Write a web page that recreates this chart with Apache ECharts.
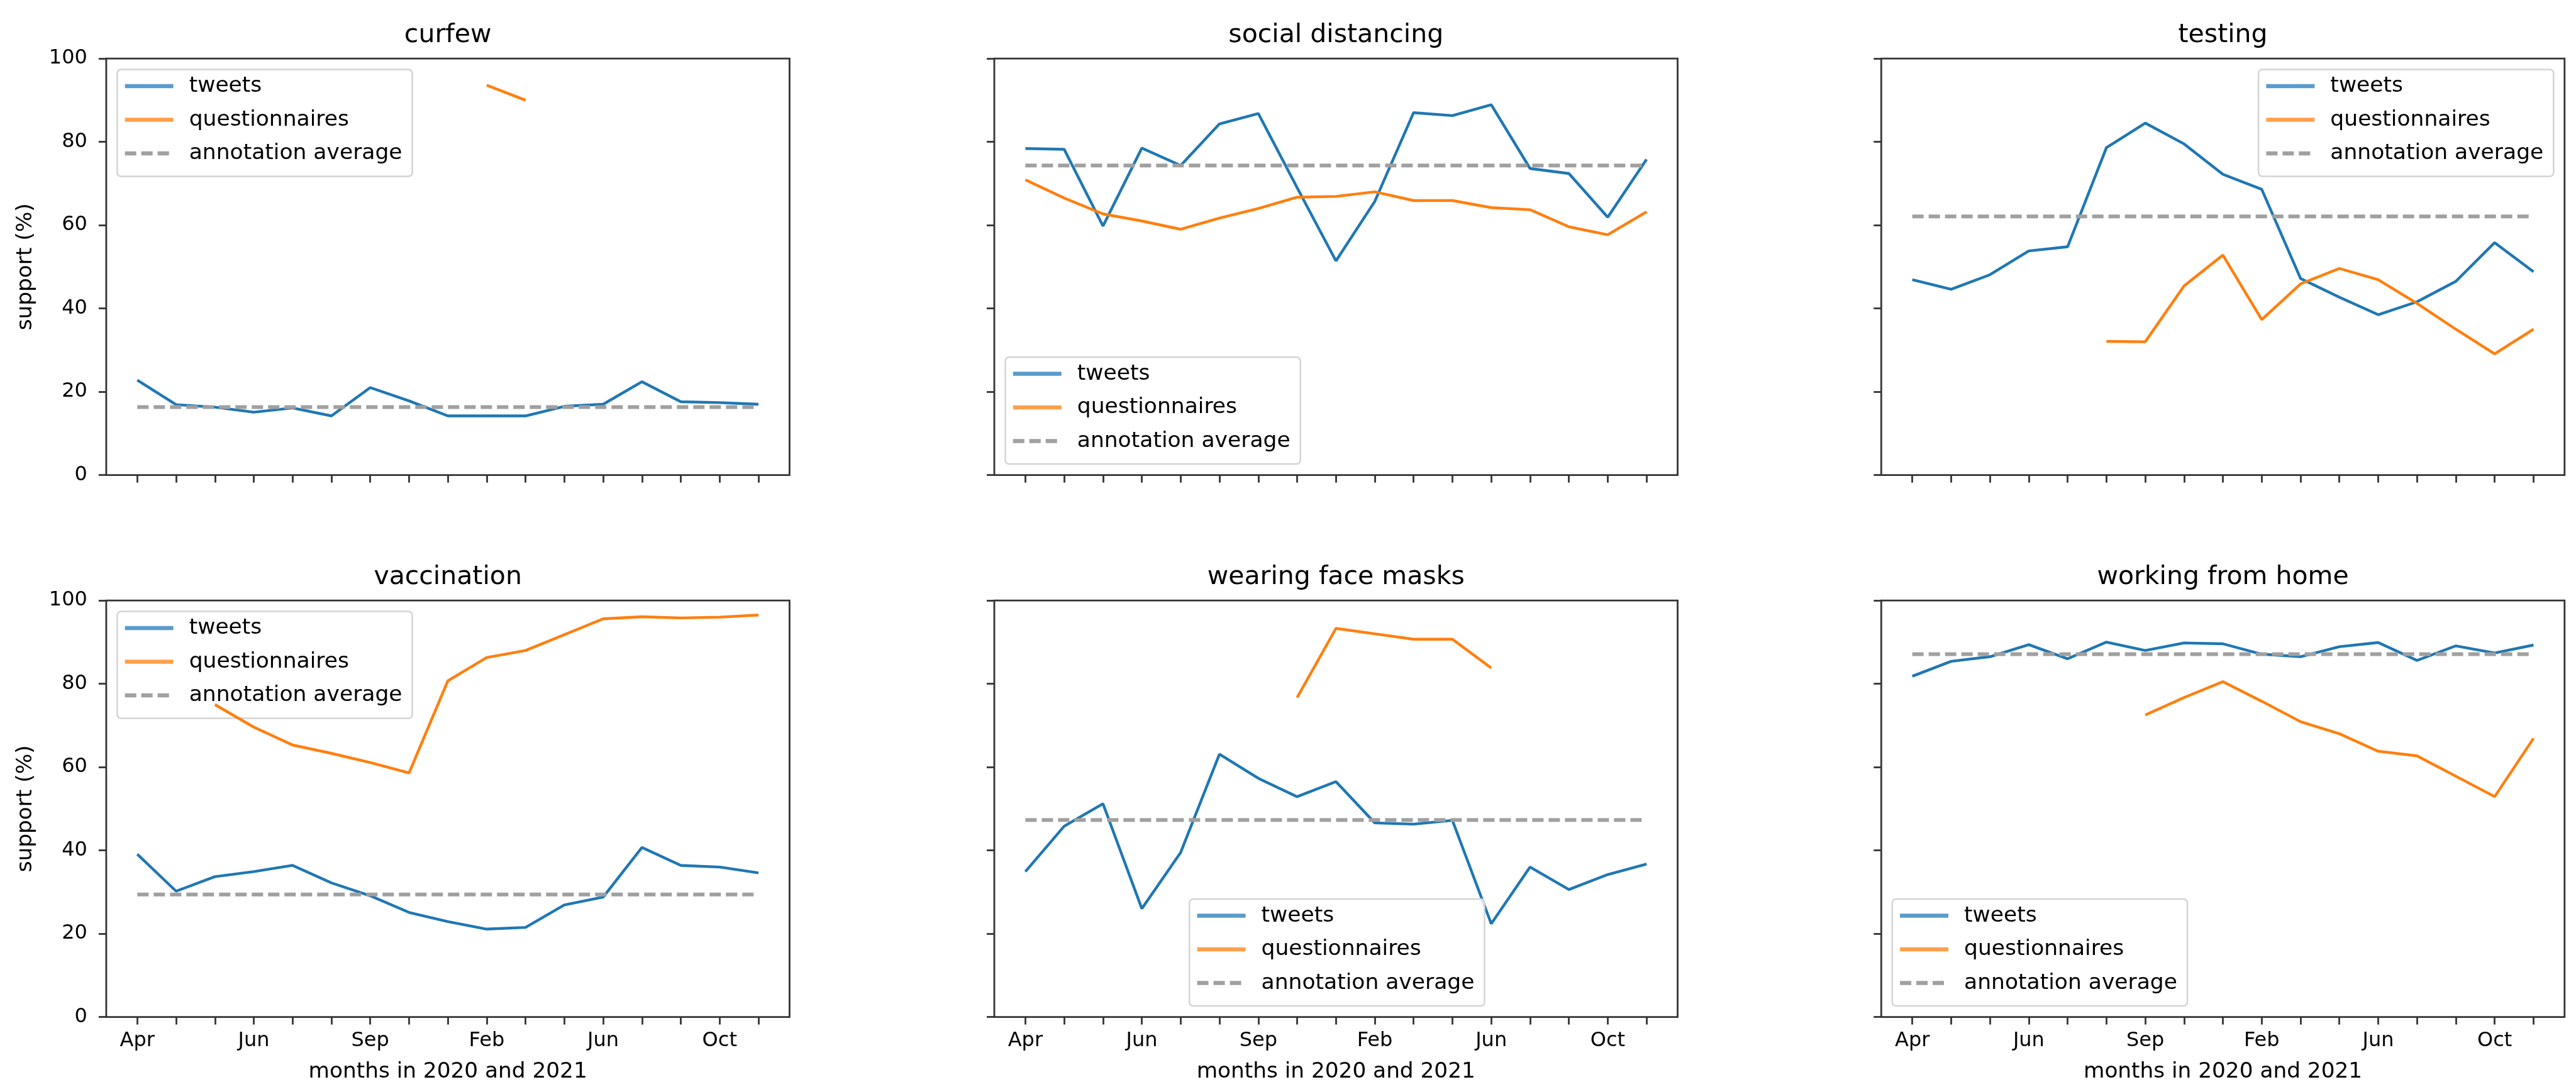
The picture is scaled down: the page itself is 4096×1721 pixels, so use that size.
<!DOCTYPE html>
<html>
<head>
<meta charset="utf-8">
<script src="https://cdn.jsdelivr.net/npm/echarts@6/dist/echarts.min.js"></script>
<style>
  html, body { margin: 0; padding: 0; background: #ffffff; }
  #chart { width: 4096px; height: 1721px; }
</style>
</head>
<body>
<div id="chart"></div>
<script>
// ---- data ----------------------------------------------------------------
const panelTitles = ['curfew', 'social distancing', 'testing',
                     'vaccination', 'wearing face masks', 'working from home'];

// month index 0..16 along the x axis, labels on every third tick
const xTickPositions = [0, 1, 2, 3, 4, 5, 6, 7, 8, 9, 10, 11, 12, 13, 14, 15, 16];
const monthTickPositions = [0, 3, 6, 9, 12, 15];
const monthTickLabels = ['Apr', 'Jun', 'Sep', 'Feb', 'Jun', 'Oct'];

const curfewTweets = [22.8, 16.9, 16.3, 15.1, 16.1, 14.2, 21.0, 17.8, 14.2, 14.2, 14.2, 16.5, 17.0, 22.4, 17.6, 17.4, 17.0];
const curfewQuestionnaires = [null, null, null, null, null, null, null, null, null, 93.6, 90.0, null, null, null, null, null, null];
const curfewAverage = 16.3;

const distancingTweets = [78.4, 78.2, 59.8, 78.5, 74.3, 84.3, 86.8, 69.0, 51.4, 65.7, 87.0, 86.3, 88.9, 73.6, 72.4, 61.9, 75.8];
const distancingQuestionnaires = [70.9, 66.5, 62.7, 61.0, 59.0, 61.7, 64.0, 66.7, 66.9, 68.0, 65.9, 65.9, 64.2, 63.7, 59.6, 57.7, 63.2];
const distancingAverage = 74.3;

const testingTweets = [46.9, 44.6, 48.1, 53.8, 54.8, 78.6, 84.5, 79.5, 72.2, 68.6, 47.2, 42.7, 38.5, 41.6, 46.5, 55.8, 48.8];
const testingQuestionnaires = [null, null, null, null, null, 32.1, 32.0, 45.4, 52.8, 37.3, 45.9, 49.6, 46.9, 41.2, 35.0, 29.1, 35.0];
const testingAverage = 62.1;

const vaccinationTweets = [39.1, 30.2, 33.7, 34.9, 36.4, 32.2, 29.1, 25.1, 22.9, 21.1, 21.5, 26.9, 28.8, 40.7, 36.4, 36.0, 34.6];
const vaccinationQuestionnaires = [null, null, 75.0, 69.6, 65.3, 63.3, 61.1, 58.6, 80.7, 86.3, 88.0, 91.8, 95.6, 96.1, 95.8, 96.0, 96.5];
const vaccinationAverage = 29.4;

const masksTweets = [34.9, 45.8, 51.2, 26.0, 39.5, 63.1, 57.3, 52.9, 56.5, 46.6, 46.3, 47.2, 22.4, 36.0, 30.6, 34.2, 36.7];
const masksQuestionnaires = [null, null, null, null, null, null, null, 76.7, 93.3, 92.0, 90.7, 90.7, 83.8, null, null, null, null];
const masksAverage = 47.3;

const homeTweets = [81.8, 85.4, 86.5, 89.4, 86.0, 90.0, 88.0, 89.8, 89.6, 87.1, 86.5, 88.9, 89.9, 85.6, 89.1, 87.4, 89.3];
const homeQuestionnaires = [null, null, null, null, null, null, 72.5, 76.7, 80.5, 75.8, 70.9, 68.0, 63.8, 62.7, 57.8, 52.9, 66.9];
const homeAverage = 87.1;

const tweetSeries = [curfewTweets, distancingTweets, testingTweets, vaccinationTweets, masksTweets, homeTweets];
const questionnaireSeries = [curfewQuestionnaires, distancingQuestionnaires, testingQuestionnaires,
                             vaccinationQuestionnaires, masksQuestionnaires, homeQuestionnaires];
const averages = [curfewAverage, distancingAverage, testingAverage, vaccinationAverage, masksAverage, homeAverage];

const seriesNames = ['tweets', 'questionnaires', 'annotation average'];
const legendPlacement = ['upper left', 'lower left', 'upper right', 'upper left', 'lower center', 'lower left'];

// ---- layout & style ------------------------------------------------------
const FONT = '"DejaVu Sans", "Liberation Sans", sans-serif';
const CW = 4096, CH = 1721;
const colLeft = [168.9, 1581.0, 2991.3];
const rowTop = [93.1, 955.1];
const gridW = 1086.5, gridH = 662.5;

const BLUE = '#1f77b4', ORANGE = '#ff7f0e', GREY = '#a0a0a0';
const AXIS = '#333333';
const DASH = [18, 8];

const legendPad = [9, 16, 19, 9];
const legendItemW = 77;
const legendTextPad = 20;
const legendFont = 34.5;

// width of a legend box, for centring it under an axes
const measureCtx = document.createElement('canvas').getContext('2d');
measureCtx.font = legendFont + 'px ' + FONT;
const legendTextW = Math.max.apply(null, seriesNames.map(n => measureCtx.measureText(n).width));
const legendW = legendPad[3] + legendItemW + 5 + legendTextPad + legendTextW + legendPad[1];

function points(values) {
  const out = [];
  values.forEach((v, i) => { if (v !== null) out.push([i, v]); });
  return out;
}

const grids = [], xAxes = [], yAxes = [], series = [], legends = [], titles = [];

for (let k = 0; k < 6; k++) {
  const row = Math.floor(k / 3), col = k % 3;
  const L = colLeft[col], T = rowTop[row];

  grids.push({
    left: L, top: T, width: gridW, height: gridH,
    show: true, borderColor: AXIS, borderWidth: 2.8,
    backgroundColor: 'transparent',
    containLabel: false, outerBoundsMode: 'none'
  });

  xAxes.push({
    type: 'value', gridIndex: k, min: -0.8, max: 16.8, position: 'bottom',
    axisLine: { show: false, onZero: false },
    splitLine: { show: false },
    axisTick: { show: true, customValues: xTickPositions, length: 12, inside: false,
                lineStyle: { color: AXIS, width: 2.8 } },
    axisLabel: {
      show: row === 1, customValues: monthTickPositions, margin: 22,
      fontSize: 32, fontFamily: FONT, color: '#000',
      formatter: v => monthTickLabels[monthTickPositions.indexOf(Math.round(v))] || ''
    },
    name: row === 1 ? 'months in 2020 and 2021' : '',
    nameLocation: 'middle', nameGap: 70,
    nameTextStyle: { fontSize: 34.3, fontFamily: FONT, color: '#000' }
  });

  yAxes.push({
    type: 'value', gridIndex: k, min: 0, max: 100, interval: 20, position: 'left',
    axisLine: { show: false, onZero: false },
    splitLine: { show: false },
    axisTick: { show: true, length: 12, inside: false, lineStyle: { color: AXIS, width: 2.8 } },
    axisLabel: { show: col === 0, margin: 30, fontSize: 32, fontFamily: FONT, color: '#000' },
    name: col === 0 ? 'support (%)' : '',
    nameLocation: 'middle', nameGap: 111,
    nameTextStyle: { fontSize: 34.3, fontFamily: FONT, color: '#000' }
  });

  series.push({
    type: 'line', name: 'tweets', xAxisIndex: k, yAxisIndex: k,
    data: points(tweetSeries[k]), symbol: 'none', silent: true,
    itemStyle: { color: BLUE }, lineStyle: { color: BLUE, width: 4.4 }, z: 3
  });
  series.push({
    type: 'line', name: 'questionnaires', xAxisIndex: k, yAxisIndex: k,
    data: points(questionnaireSeries[k]), symbol: 'none', silent: true,
    itemStyle: { color: ORANGE }, lineStyle: { color: ORANGE, width: 4.4 }, z: 4
  });
  series.push({
    type: 'line', name: 'annotation average', xAxisIndex: k, yAxisIndex: k,
    data: [[0, averages[k]], [16, averages[k]]], symbol: 'none', silent: true,
    itemStyle: { color: GREY }, lineStyle: { color: GREY, width: 6, type: DASH }, z: 5
  });

  titles.push({
    text: panelTitles[k], left: L + gridW / 2, top: T - 57.4, textAlign: 'center', padding: 0,
    textStyle: { fontSize: 41, fontWeight: 'normal', fontFamily: FONT, color: '#000' }
  });

  const place = legendPlacement[k];
  const pos = {};
  if (place.startsWith('upper')) pos.top = T + 17.5;
  else pos.bottom = CH - (T + gridH - 17.5);
  if (place.endsWith('left')) pos.left = L + 17.5;
  else if (place.endsWith('right')) pos.right = CW - (L + gridW - 17.5);
  else pos.left = L + gridW / 2 - legendW / 2;

  legends.push(Object.assign({
    orient: 'vertical',
    selectedMode: false,
    data: [
      { name: 'tweets', lineStyle: { color: '#5a9bcc' } },
      { name: 'questionnaires', lineStyle: { color: '#ffa04c' } },
      { name: 'annotation average', lineStyle: { color: GREY, type: DASH } }
    ],
    itemWidth: legendItemW, itemHeight: 14, itemGap: 18.5,
    padding: legendPad,
    backgroundColor: 'rgba(255,255,255,0.8)',
    borderColor: '#d4d4d4', borderWidth: 2.5, borderRadius: 6,
    itemStyle: { opacity: 0 },
    lineStyle: { width: 6.5 },
    textStyle: { fontSize: legendFont, fontFamily: FONT, color: '#000', padding: [0, 0, 0, legendTextPad] }
  }, pos));
}

const chart = echarts.init(document.getElementById('chart'), null, { renderer: 'canvas', width: CW, height: CH });
chart.setOption({
  animation: false,
  backgroundColor: '#ffffff',
  title: titles,
  grid: grids,
  xAxis: xAxes,
  yAxis: yAxes,
  legend: legends,
  series: series
});
</script>
</body>
</html>
